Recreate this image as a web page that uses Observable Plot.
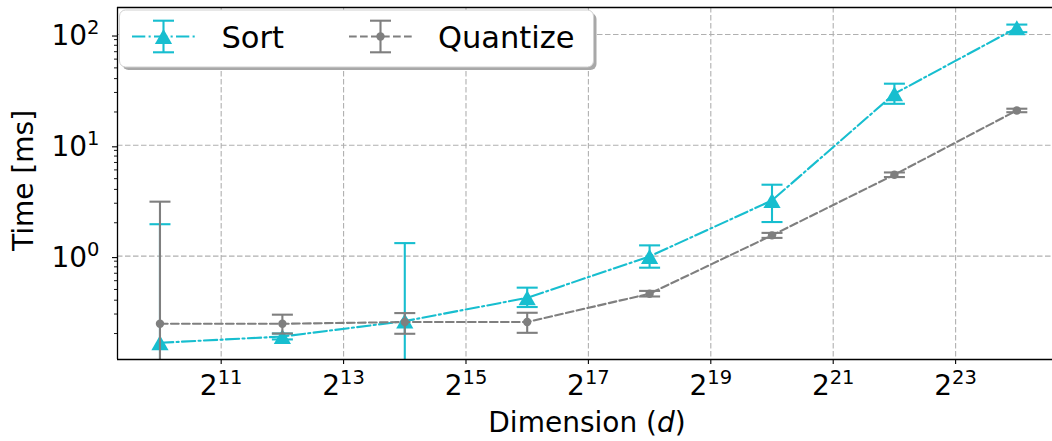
<!DOCTYPE html>
<html><head><meta charset="utf-8">
<script src="https://cdn.jsdelivr.net/npm/d3@7"></script>
<script src="https://cdn.jsdelivr.net/npm/@observablehq/plot@0.6"></script>
<style>body{margin:0;background:#fff;} svg{display:block}</style>
</head><body><div id="chart"></div>
<script>
// Data
const dims = [1024, 4096, 16384, 65536, 262144, 1048576, 4194304, 16777216];
const sortMean = [0.165, 0.188, 0.259, 0.42, 0.994, 3.18, 29.2, 115];
const sortLow  = [0.01, 0.177, 0.01, 0.347, 0.786, 2.03, 23.7, 105];
const sortHigh = [1.94, 0.2, 1.31, 0.519, 1.25, 4.41, 36, 123];
const quantMean = [0.245, 0.245, 0.254, 0.254, 0.458, 1.54, 5.43, 20.65];
const quantLow  = [0.01, 0.2, 0.199, 0.203, 0.432, 1.46, 5.17, 19.9];
const quantHigh = [3.1, 0.296, 0.306, 0.308, 0.485, 1.62, 5.69, 21.4];
const xTicks = [2048, 8192, 32768, 131072, 524288, 2097152, 8388608];
const yTicks = [1, 10, 100];
const yMinorTicks = [0.2,0.3,0.4,0.5,0.6,0.7,0.8,0.9,2,3,4,5,6,7,8,9,20,30,40,50,60,70,80,90];
const seriesNames = ["Sort", "Quantize"];
const seriesColors = ["#17becf", "#7f7f7f"];
const xLabel = "Dimension";
const yLabel = "Time [ms]";

const xDomain = [Math.pow(2, 9.306), Math.pow(2, 24.583)];
const yDomain = [0.1166, 175.4];

const sortRows = dims.map((d, i) => ({d, mean: sortMean[i], lo: sortLow[i], hi: sortHigh[i]}));
const quantRows = dims.map((d, i) => ({d, mean: quantMean[i], lo: quantLow[i], hi: quantHigh[i]}));

const triSymbol = {draw(ctx) { ctx.moveTo(0, -7.5); ctx.lineTo(8.6, 7.5); ctx.lineTo(-8.6, 7.5); ctx.closePath(); }};
const capSymbol = {draw(ctx) { ctx.moveTo(-10.5, 0); ctx.lineTo(10.5, 0); }};

function seriesMarks(rows, color, dash, symbol, r) {
  return [
    Plot.line(rows, {x: "d", y: "mean", stroke: color, strokeWidth: 2.1, strokeDasharray: dash}),
    Plot.ruleX(rows, {x: "d", y1: "lo", y2: "hi", stroke: color, strokeWidth: 2.1, clip: true}),
    Plot.dot(rows, {x: "d", y: "lo", symbol: capSymbol, stroke: color, strokeWidth: 2.1, fill: "none", clip: true}),
    Plot.dot(rows, {x: "d", y: "hi", symbol: capSymbol, stroke: color, strokeWidth: 2.1, fill: "none", clip: true}),
    Plot.dot(rows, {x: "d", y: "mean", symbol, r, fill: color, stroke: "none"})
  ];
}

const grid = {stroke: "#b0b0b0", strokeOpacity: 1, strokeWidth: 1.1, strokeDasharray: "5.5,2.5"};

const chart = Plot.plot({
  width: 1052, height: 441,
  marginLeft: 117, marginRight: 0, marginTop: 7, marginBottom: 82,
  style: {fontFamily: "DejaVu Sans", background: "white", color: "black"},
  x: {type: "log", base: 2, domain: xDomain, label: null},
  y: {type: "log", domain: yDomain, label: null},
  marks: [
    Plot.gridX(xTicks, grid),
    Plot.gridY(yTicks, grid),
    ...seriesMarks(sortRows, seriesColors[0], "13.3,3.3,2.1,3.3", triSymbol, 6),
    ...seriesMarks(quantRows, seriesColors[1], "7.7,3.3", "circle", 4.2),
    Plot.ruleY([yDomain[0], yDomain[1]], {stroke: "black", strokeWidth: 1.3}),
    Plot.ruleX([xDomain[0]], {stroke: "black", strokeWidth: 1.3}),
    Plot.axisX(xTicks, {tickSize: 5, tickPadding: 11, fontSize: 28, strokeWidth: 1.1, label: null,
      tickFormat: d => "2^" + Math.round(Math.log2(d))}),
    Plot.axisY(yTicks, {tickSize: 5, tickPadding: 13, fontSize: 28, strokeWidth: 1.1, label: null, dy: 1.5,
      tickFormat: d => "10^" + Math.round(Math.log10(d))}),
    Plot.axisY(yMinorTicks, {tickSize: 3, strokeWidth: 0.9, label: null, tickFormat: () => ""})
  ]
});
document.getElementById("chart").appendChild(chart);

// superscript exponents in tick labels
chart.querySelectorAll("text").forEach(t => {
  const s = t.textContent;
  if (!s.includes("^")) return;
  const [base, exp] = s.split("^");
  while (t.firstChild) t.removeChild(t.firstChild);
  const b = document.createElementNS("http://www.w3.org/2000/svg", "tspan");
  b.textContent = base; t.appendChild(b);
  const e = document.createElementNS("http://www.w3.org/2000/svg", "tspan");
  e.textContent = exp; e.setAttribute("font-size", "19.5");
  e.setAttribute("dy", "-11"); t.appendChild(e);
});

const svg = d3.select(chart);
// axis titles
const xl = svg.append("text").attr("x", 587).attr("y", 432).attr("text-anchor", "middle")
  .attr("font-size", 28).attr("fill", "black");
xl.append("tspan").text(xLabel + " (");
xl.append("tspan").attr("font-style", "italic").text("d");
xl.append("tspan").text(")");
svg.append("text").attr("transform", "translate(33,180.5) rotate(-90)").attr("text-anchor", "middle")
  .attr("font-size", 28).attr("fill", "black").text(yLabel);

// legend
const lg = svg.append("g");
lg.append("rect").attr("x", 122.5).attr("y", 13).attr("width", 474).attr("height", 57).attr("rx", 6)
  .attr("fill", "#a8a8a8");
lg.append("rect").attr("x", 119.5).attr("y", 10).attr("width", 474).attr("height", 57).attr("rx", 6)
  .attr("fill", "white").attr("stroke", "#d0d0d0").attr("stroke-width", 1);
const entries = [
  {name: seriesNames[0], color: seriesColors[0], dash: "13.3,3.3,2.1,3.3", x0: 132, tx: 221.5, tri: true},
  {name: seriesNames[1], color: seriesColors[1], dash: "7.7,3.3", x0: 349, tx: 438, tri: false}
];
entries.forEach(e => {
  const cy = 36.5, cx = e.x0 + 31.5;
  lg.append("line").attr("x1", e.x0).attr("x2", e.x0 + 63).attr("y1", cy).attr("y2", cy)
    .attr("stroke", e.color).attr("stroke-width", 2.1).attr("stroke-dasharray", e.dash);
  lg.append("line").attr("x1", cx).attr("x2", cx).attr("y1", 20.7).attr("y2", 52.3)
    .attr("stroke", e.color).attr("stroke-width", 2.1);
  [20.7, 52.3].forEach(y => lg.append("line").attr("x1", cx - 10.5).attr("x2", cx + 10.5)
    .attr("y1", y).attr("y2", y).attr("stroke", e.color).attr("stroke-width", 2.1));
  if (e.tri) lg.append("path").attr("d", `M${cx},${cy-7.5}L${cx+8.6},${cy+7.5}L${cx-8.6},${cy+7.5}Z`).attr("fill", e.color);
  else lg.append("circle").attr("cx", cx).attr("cy", cy).attr("r", 4.2).attr("fill", e.color);
  lg.append("text").attr("x", e.tx).attr("y", 48).attr("text-anchor", "start")
    .attr("font-size", 30.5).attr("fill", "black").text(e.name);
});
</script></body></html>
